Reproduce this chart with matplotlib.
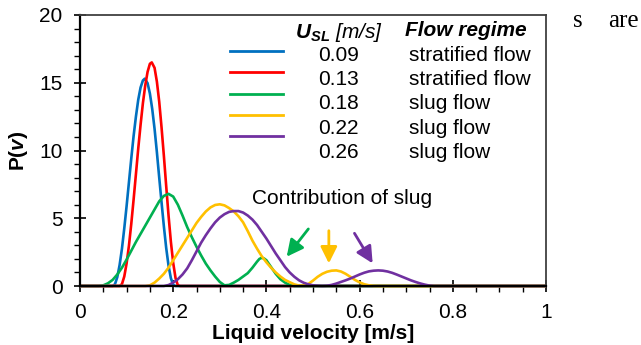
import matplotlib

matplotlib.use("Agg")

import numpy as np
import matplotlib.pyplot as plt

# Velocity distributions (v in m/s, P(v))
blue_v = [0.0, 0.07, 0.075, 0.08, 0.085, 0.09, 0.095, 0.10, 0.105, 0.11, 0.115, 0.12, 0.125, 0.13, 0.135,
          0.139, 0.145, 0.15, 0.155, 0.16, 0.165, 0.17, 0.175, 0.18, 0.185, 0.19, 0.195, 0.20, 0.205, 1.0]
blue_p = [0, 0, 0.13, 0.65, 1.55, 2.75, 4.25, 5.9, 7.65, 9.4, 11.06, 12.5, 13.75, 14.65, 15.17,
          15.3, 14.97, 14.2, 13.06, 11.6, 9.87, 8.0, 6.17, 4.4, 2.8, 1.5, 0.58, 0.08, 0, 0]

red_v = [0.0, 0.085, 0.09, 0.095, 0.10, 0.105, 0.11, 0.115, 0.12, 0.125, 0.13, 0.135, 0.14, 0.145, 0.15,
         0.154, 0.16, 0.165, 0.17, 0.175, 0.18, 0.185, 0.19, 0.195, 0.20, 0.205, 0.21, 0.215, 1.0]
red_p = [0, 0, 0.14, 0.70, 1.67, 2.97, 4.58, 6.37, 8.25, 10.15, 11.9, 13.5, 14.8, 15.8, 16.4,
         16.5, 16.1, 15.08, 13.6, 11.7, 9.6, 7.36, 5.2, 3.27, 1.7, 0.59, 0.05, 0, 0]

green_v = [0.0, 0.04, 0.05, 0.06, 0.07, 0.08, 0.09, 0.10, 0.11, 0.12, 0.13, 0.14, 0.15, 0.16, 0.17,
           0.18, 0.19, 0.20, 0.21, 0.22, 0.23, 0.24, 0.25, 0.26, 0.27, 0.28, 0.29, 0.30, 0.31,
           0.32, 0.33, 0.34, 0.35, 0.36, 0.37, 0.38, 0.385, 0.39, 0.395, 0.40, 0.41, 0.42, 0.43,
           0.44, 0.45, 0.46, 1.0]
green_p = [0, 0, 0.05, 0.2, 0.45, 0.85, 1.35, 1.95, 2.6, 3.25, 3.85, 4.45, 5.05, 5.65, 6.25,
           6.65, 6.8, 6.6, 6.0, 5.2, 4.35, 3.6, 2.9, 2.25, 1.65, 1.15, 0.7, 0.3, 0.05,
           0.08, 0.25, 0.45, 0.7, 0.95, 1.35, 1.8, 2.0, 2.08, 2.03, 1.9, 1.4, 0.9, 0.5,
           0.25, 0.08, 0, 0]

yellow_v = [0.0, 0.14, 0.15, 0.16, 0.17, 0.18, 0.19, 0.20, 0.21, 0.22, 0.23, 0.24, 0.25, 0.26, 0.27,
            0.28, 0.29, 0.30, 0.31, 0.32, 0.33, 0.34, 0.35, 0.36, 0.37, 0.38, 0.39, 0.40, 0.41,
            0.42, 0.43, 0.44, 0.45, 0.46, 0.47, 0.48, 0.49, 0.50, 0.51, 0.52, 0.53, 0.54, 0.55,
            0.56, 0.57, 0.58, 0.59, 0.60, 0.61, 0.62, 0.63, 0.64, 1.0]
yellow_p = [0, 0, 0.05, 0.25, 0.55, 0.9, 1.35, 1.9, 2.45, 3.0, 3.55, 4.1, 4.65, 5.1, 5.5,
            5.8, 5.98, 6.03, 5.95, 5.75, 5.5, 5.15, 4.7, 4.05, 3.35, 2.75, 2.2, 1.75, 1.35,
            1.0, 0.7, 0.45, 0.28, 0.12, 0.03, 0.03, 0.15, 0.4, 0.68, 0.9, 1.05, 1.13, 1.15,
            1.07, 0.9, 0.68, 0.45, 0.27, 0.13, 0.05, 0.01, 0, 0]

purple_v = [0.0, 0.18, 0.19, 0.20, 0.21, 0.22, 0.23, 0.24, 0.25, 0.26, 0.27, 0.28, 0.29, 0.30, 0.31,
            0.32, 0.33, 0.34, 0.35, 0.36, 0.37, 0.38, 0.39, 0.40, 0.41, 0.42, 0.43, 0.44, 0.45,
            0.46, 0.47, 0.48, 0.49, 0.50, 0.51, 0.52, 0.53, 0.54, 0.55, 0.56, 0.57, 0.58, 0.59,
            0.60, 0.61, 0.62, 0.63, 0.64, 0.65, 0.66, 0.67, 0.68, 0.69, 0.70, 0.71, 0.72, 0.73,
            0.74, 0.75, 0.76, 1.0]
purple_p = [0, 0, 0.07, 0.25, 0.5, 0.85, 1.3, 1.9, 2.55, 3.2, 3.75, 4.25, 4.7, 5.05, 5.3,
            5.47, 5.53, 5.53, 5.42, 5.2, 4.9, 4.5, 4.0, 3.5, 2.95, 2.4, 1.9, 1.4, 1.0,
            0.68, 0.42, 0.24, 0.12, 0.05, 0.02, 0, 0.02, 0.08, 0.18, 0.3, 0.42, 0.55, 0.7,
            0.85, 0.98, 1.08, 1.13, 1.15, 1.13, 1.07, 0.97, 0.84, 0.7, 0.56, 0.42, 0.3, 0.19,
            0.1, 0.03, 0, 0]

usl = ["0.09", "0.13", "0.18", "0.22", "0.26"]
regimes = ["stratified flow", "stratified flow", "slug flow", "slug flow", "slug flow"]
colors = ["#0070C0", "#FF0000", "#00B050", "#FFC000", "#7030A0"]
series = [(blue_v, blue_p), (red_v, red_p), (green_v, green_p), (yellow_v, yellow_p), (purple_v, purple_p)]

x_ticks = [0, 0.2, 0.4, 0.6, 0.8, 1.0]
x_labels = ["0", "0.2", "0.4", "0.6", "0.8", "1"]
y_ticks = [0, 5, 10, 15, 20]

FS = 15

plt.rcParams["font.family"] = ["Liberation Sans", "DejaVu Sans"]
plt.rcParams["mathtext.fontset"] = "custom"
plt.rcParams["mathtext.rm"] = "Liberation Sans"
plt.rcParams["mathtext.it"] = "Liberation Sans:italic"
plt.rcParams["mathtext.bf"] = "Liberation Sans:bold"
plt.rcParams["mathtext.bfit"] = "Liberation Sans:italic:bold"

fig = plt.figure(figsize=(6.41, 3.45), dpi=100)
ax = fig.add_axes([80 / 641, 59 / 345, 466 / 641, 271 / 345])

for (v, p), c in zip(series, colors):
    ax.plot(v, p, color=c, lw=1.9, clip_on=False, solid_capstyle="butt")

ax.set_xlim(0, 1)
ax.set_ylim(0, 20)
ax.set_xticks(x_ticks)
ax.set_xticklabels(x_labels)
ax.set_yticks(y_ticks)
ax.set_xticks(np.arange(0, 1.001, 0.05), minor=True)
ax.set_yticks(np.arange(0, 20.001, 1), minor=True)
ax.tick_params(which="major", direction="inout", length=9, width=1.2, labelsize=FS)
ax.tick_params(which="minor", direction="out", length=4, width=1.0)
ax.tick_params(axis="x", which="major", pad=8)
ax.tick_params(axis="y", which="major", pad=8)

for s in ["left", "bottom"]:
    ax.spines[s].set_linewidth(1.6)
for s in ["top", "right"]:
    ax.spines[s].set_linewidth(1.3)
    ax.spines[s].set_color("#404040")

ax.set_xlabel("Liquid velocity [m/s]", fontsize=FS, fontweight="bold", labelpad=1)
ax.set_ylabel(r"$\mathbf{P(}\mathbfit{v}\mathbf{)}$", fontsize=FS, labelpad=7)

# legend table
line_y = [0.866, 0.789, 0.710, 0.631, 0.552]
text_y = [0.852, 0.763, 0.672, 0.582, 0.492]
for ly, ty, c, u, r in zip(line_y, text_y, colors, usl, regimes):
    ax.plot([0.322, 0.435], [ly, ly], color=c, lw=2.0, transform=ax.transAxes)
    ax.text(0.554, ty, u, transform=ax.transAxes, ha="center", va="center", fontsize=FS)
    ax.text(0.707, ty, r, transform=ax.transAxes, ha="left", va="center", fontsize=FS)
ax.text(0.461, 0.935, r"$\mathbfit{U}_{\mathbfit{SL}}$ [m/s]", transform=ax.transAxes,
        ha="left", va="center", fontsize=FS, style="italic")
ax.text(0.697, 0.943, "Flow regime", transform=ax.transAxes, ha="left", va="center",
        fontsize=FS, style="italic", fontweight="bold")

ax.text(0.369, 0.324, "Contribution of slug", transform=ax.transAxes, ha="left", va="center",
        fontsize=FS)

arrows = [((0.490, 4.21), (0.4435, 2.16), colors[2]),
          ((0.534, 4.08), (0.534, 1.67), colors[3]),
          ((0.589, 3.89), (0.628, 1.67), colors[4])]
for tail, head, c in arrows:
    ax.annotate("", xy=head, xytext=tail,
                arrowprops=dict(arrowstyle="-|>,head_length=0.5,head_width=0.25", color=c,
                                lw=2.0, mutation_scale=20, shrinkA=0, shrinkB=0))

fig.text(578 / 641, 1 - 21 / 345, "s", family="Liberation Serif", fontsize=18, ha="center", va="center")
fig.text(623 / 641, 1 - 21 / 345, "are", family="Liberation Serif", fontsize=18, ha="center", va="center")

fig.savefig("out.png", dpi=100)
